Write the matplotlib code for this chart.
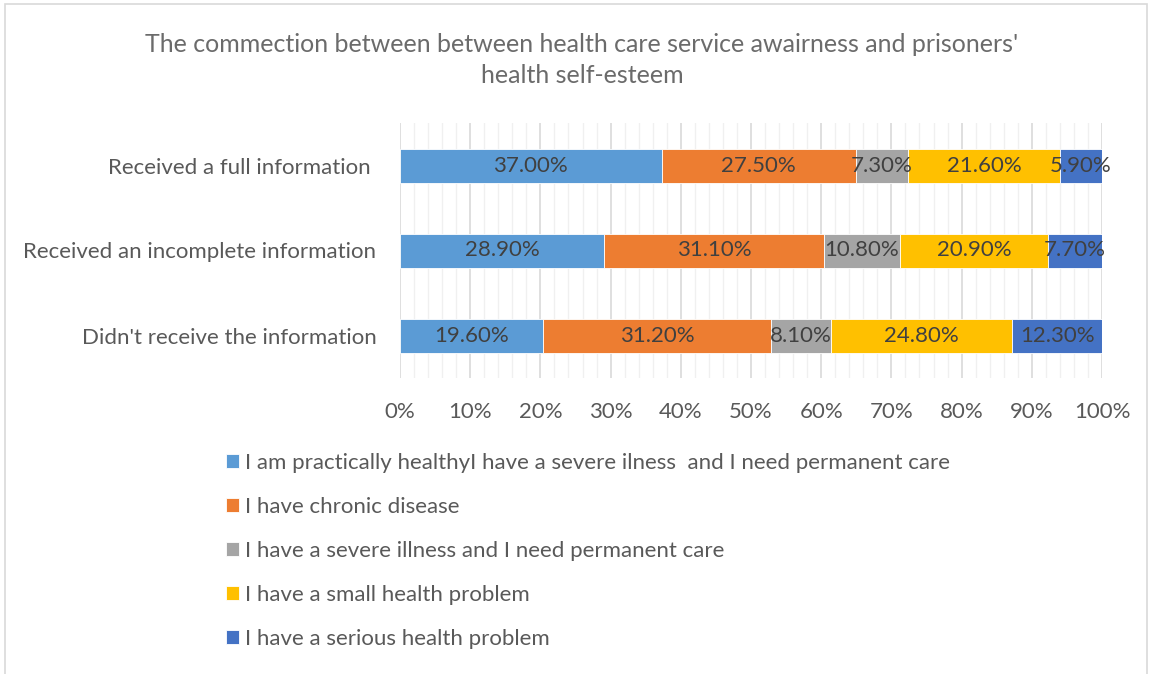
import matplotlib.pyplot as plt
import numpy as np
from matplotlib.patches import Rectangle
from matplotlib.ticker import MultipleLocator, PercentFormatter

categories = ["Received a full information ",
              "Received an incomplete information",
              "Didn't receive the information"]
series = ["I am practically healthyI have a severe ilness  and I need permanent care",
          "I have chronic disease",
          "I have a severe illness and I need permanent care",
          "I have a small health problem",
          "I have a serious health problem"]
healthy = [37.0, 28.9, 19.6]
chronic = [27.5, 31.1, 31.2]
severe = [7.3, 10.8, 8.1]
small = [21.6, 20.9, 24.8]
serious = [5.9, 7.7, 12.3]
values = [healthy, chronic, severe, small, serious]
colors = ['#5B9BD5', '#ED7D31', '#A5A5A5', '#FFC000', '#4472C4']

plt.rcParams['font.family'] = ['Lato', 'DejaVu Sans']
txt = '#595959'

fig = plt.figure(figsize=(11.53, 6.74), dpi=100)
ax = fig.add_axes([400/1153, 1-378/674, 702/1153, 255/674])

# 100% stacked: normalise each row, label with raw values
totals = np.sum(values, axis=0)
y = np.arange(len(categories))
left = np.zeros(len(categories))
handles = []
for name, vals, c in zip(series, values, colors):
    vals = np.array(vals)
    share = vals / totals * 100
    b = ax.barh(y, share, left=left, height=0.4, color=c, label=name,
                edgecolor='white', linewidth=0.6, zorder=3)
    handles.append(b)
    for yi, l, s, v in zip(y, left, share, vals):
        ax.text(l + s/2, yi, f"{v:.2f}%", ha='center', va='center',
                fontsize=16, color='#404040', zorder=4)
    left += share

ax.set_xlim(0, 100)
ax.set_ylim(2.5, -0.5)
ax.set_yticks(y)
ax.set_yticklabels(categories, fontsize=16, color=txt)
ax.xaxis.set_major_locator(MultipleLocator(10))
ax.xaxis.set_minor_locator(MultipleLocator(2))
ax.xaxis.set_major_formatter(PercentFormatter(decimals=0))
ax.tick_params(axis='x', which='both', length=0, labelsize=16, labelcolor=txt, pad=17)
ax.tick_params(axis='y', length=0, pad=17)
ax.grid(axis='x', which='major', color='#D9D9D9', linewidth=1.2, zorder=0)
ax.grid(axis='x', which='minor', color='#F0F0F0', linewidth=1.0, zorder=0)
for s in ax.spines.values():
    s.set_visible(False)

fig.text(582/1153, 1 - 60/674,
         "The commection between between health care service awairness and prisoners'\nhealth self-esteem",
         ha='center', va='center', fontsize=18, color='#6b6b6b',
         linespacing=1.45)

leg = fig.legend(handles=handles, labels=series, loc='upper left',
                 bbox_to_anchor=(206/1153, 1-433/674), frameon=False,
                 fontsize=16, labelcolor=txt, handlelength=0.6, handleheight=0.6,
                 handletextpad=0.25, labelspacing=1.08)

fig.patches.append(Rectangle((5/1153, -0.05), 1142/1153, 1 - 4/674 + 0.05,
                             transform=fig.transFigure, fill=False,
                             edgecolor='#D9D9D9', linewidth=1.2))

fig.savefig('out.png', dpi=100)
